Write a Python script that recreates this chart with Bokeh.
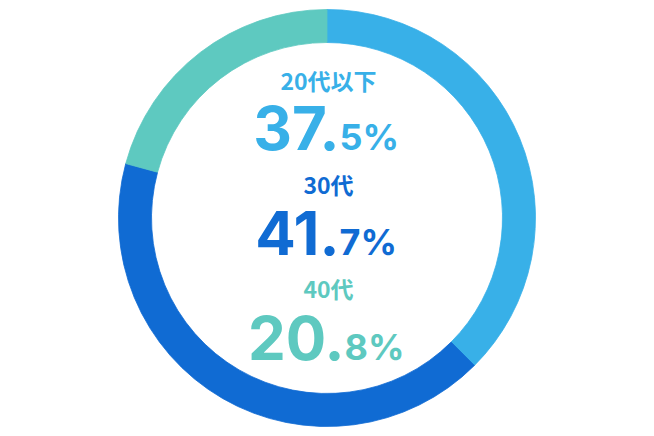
import math
from bokeh.plotting import figure
from bokeh.models import ColumnDataSource, Range1d
from bokeh.core.properties import value
from bokeh.embed import file_html
from bokeh.resources import INLINE

# ---- data ----
categories = ["20代以下", "30代", "40代"]
shares = [37.5, 41.7, 20.8]
colors = ["#38b0e8", "#106bd3", "#5ec9c0"]

# ---- layout (pixels from the top-left of the figure) ----
W, H = 638, 428
center_x, center_y_top = 326.5, 217.5
r_outer, r_inner = 208.5, 175.5
label_x = 328
label_base_top = [79, 183, 287]
num_base_top = [127, 232, 337]
frac_shift = 9
split_x = [339, 339, 344]

p = figure(width=W, height=H, x_range=Range1d(0, W), y_range=Range1d(0, H),
           output_backend="svg", toolbar_location=None, min_border=0)
p.axis.visible = False
p.grid.visible = False
p.outline_line_color = None
p.background_fill_color = "white"
p.border_fill_color = "white"

total = sum(shares)
starts, ends = [], []
acc = 0.0
for v in shares:
    starts.append(math.pi / 2 - 2 * math.pi * acc / total)
    acc += v
    ends.append(math.pi / 2 - 2 * math.pi * acc / total)

wsrc = ColumnDataSource(dict(start=starts, end=ends, color=colors))
p.annular_wedge(x=center_x, y=H - center_y_top, inner_radius=r_inner, outer_radius=r_outer,
                start_angle="start", end_angle="end", direction="clock",
                fill_color="color", line_color="color", line_width=0.8, source=wsrc)

whole = []
frac = []
for v in shares:
    a, b = f"{v:.1f}".split(".")
    whole.append(a + ".")
    frac.append(b + "%")

lsrc = ColumnDataSource(dict(x=[label_x] * 3, y=[H - t for t in label_base_top],
                             text=categories, color=colors))
p.text(x="x", y="y", text="text", text_color="color", source=lsrc,
       text_font=value("Noto Sans CJK JP"), text_font_style="bold",
       text_font_size="23px", text_align="center", text_baseline="alphabetic")

nsrc = ColumnDataSource(dict(x=split_x, y=[H - t for t in num_base_top],
                             yf=[H - t - frac_shift for t in num_base_top],
                             whole=whole, frac=frac, color=colors))
p.text(x="x", y="y", text="whole", text_color="color", source=nsrc,
       text_font=value("Inter"), text_font_style="bold",
       text_font_size="60px", text_align="right", text_baseline="alphabetic")
p.text(x="x", y="yf", text="frac", text_color="color", source=nsrc,
       text_font=value("Inter"), text_font_style="bold",
       text_font_size="36px", text_align="left", text_baseline="alphabetic")

open("out.html", "w").write(file_html(p, INLINE))
